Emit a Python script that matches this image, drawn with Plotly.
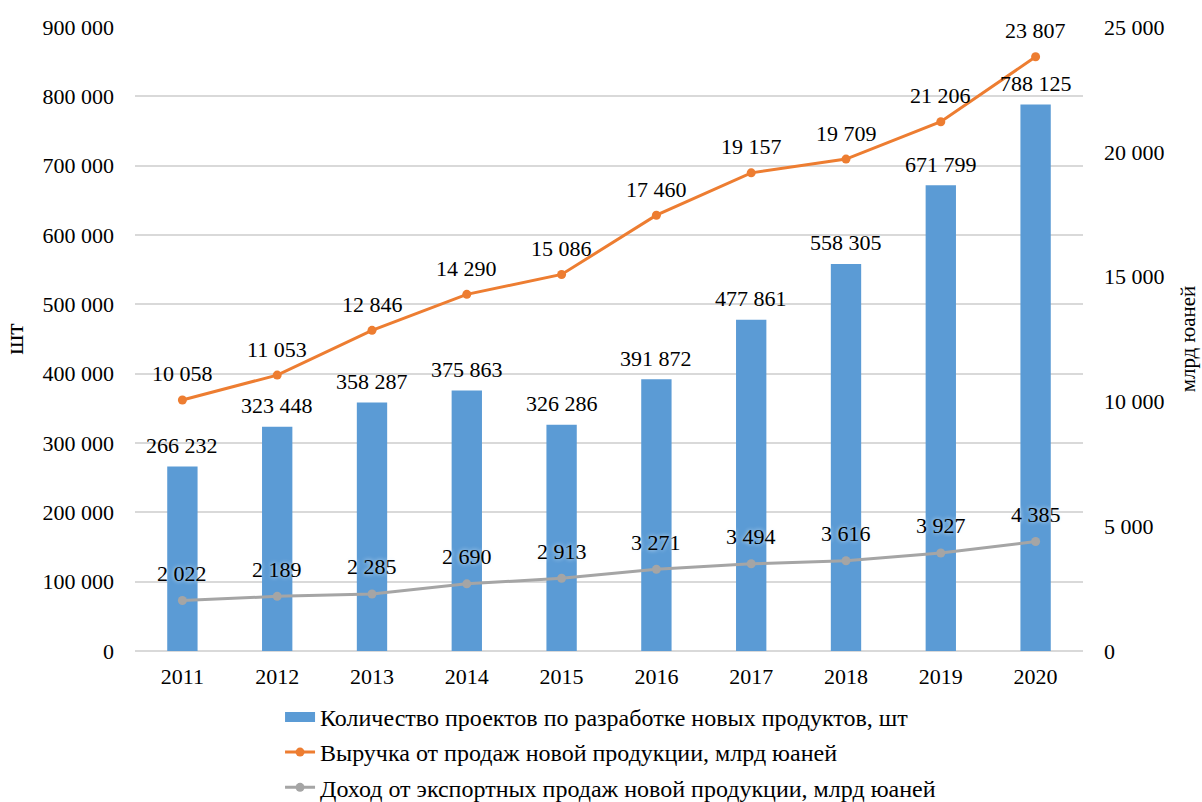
import plotly.graph_objects as go

# data
years = ["2011", "2012", "2013", "2014", "2015", "2016", "2017", "2018", "2019", "2020"]
projects = [266232, 323448, 358287, 375863, 326286, 391872, 477861, 558305, 671799, 788125]
revenue = [10058, 11053, 12846, 14290, 15086, 17460, 19157, 19709, 21206, 23807]
export_income = [2022, 2189, 2285, 2690, 2913, 3271, 3494, 3616, 3927, 4385]

name_projects = "Количество проектов по разработке новых продуктов, шт"
name_revenue = "Выручка от продаж новой продукции, млрд юаней"
name_export = "Доход от экспортных продаж новой продукции, млрд юаней"

FONT = "Liberation Serif"
BLUE = "#5b9bd5"
ORANGE = "#ed7d31"
GREY = "#a5a5a5"


def fmt(v):
    return f"{v:,}".replace(",", " ")


fig = go.Figure()

fig.add_trace(go.Bar(
    x=years, y=projects, name=name_projects,
    marker=dict(color=BLUE, line=dict(width=0)),
    width=0.32, showlegend=False,
))
# wide rectangle legend key for the bars (Excel style)
fig.add_trace(go.Scatter(
    x=[None], y=[None], name=name_projects, mode="lines",
    line=dict(color=BLUE, width=12), legendgroup="a",
))

fig.add_trace(go.Scatter(
    x=years, y=revenue, name=name_revenue, yaxis="y2",
    mode="lines+markers", legendgroup="b",
    line=dict(color=ORANGE, width=3),
    marker=dict(color=ORANGE, size=9),
))

fig.add_trace(go.Scatter(
    x=years, y=export_income, name=name_export, yaxis="y2",
    mode="lines+markers", legendgroup="c",
    line=dict(color=GREY, width=3),
    marker=dict(color=GREY, size=9),
))

# data labels (x as category index)
annotations = []
for i, v in enumerate(projects):
    annotations.append(dict(x=i, y=v, text=fmt(v), showarrow=False,
                            yanchor="middle", yshift=21, xref="x", yref="y"))
for i, v in enumerate(revenue):
    annotations.append(dict(x=i, y=v, text=fmt(v), showarrow=False,
                            yanchor="middle", yshift=26, xref="x", yref="y2"))
for i, v in enumerate(export_income):
    annotations.append(dict(x=i, y=v, text=fmt(v), showarrow=False,
                            yanchor="middle", yshift=27, xref="x", yref="y2",
                            font=dict(shadow="0px 0px 4px #e6f0fa")))

fig.update_layout(
    width=1202, height=802,
    font=dict(family=FONT, size=22, color="#000000"),
    paper_bgcolor="white",
    plot_bgcolor="white",
    separators=", ",
    margin=dict(l=135, r=119, t=27, b=151, autoexpand=False),
    bargap=0.68,
    annotations=annotations,
    xaxis=dict(
        type="category", range=[-0.5, 9.5],
        showgrid=False, automargin=False,
        showline=True, linecolor="#d9d9d9", linewidth=1,
        ticks="", ticklabelstandoff=6,
    ),
    yaxis=dict(
        range=[0, 900000], dtick=100000, tickformat=",d",
        showgrid=True, gridcolor="#d9d9d9", gridwidth=1.5,
        zeroline=True, zerolinecolor="#d9d9d9", zerolinewidth=1.5,
        ticks="", ticklabelstandoff=20, automargin=False,
        title=dict(text="шт", standoff=30),
    ),
    yaxis2=dict(
        range=[0, 25000], dtick=5000, tickformat=",d",
        overlaying="y", side="right",
        showgrid=False, zeroline=False,
        ticks="", ticklabelstandoff=20, automargin=False,
        title=dict(text="млрд юаней", standoff=16, font=dict(size=21)),
    ),
    showlegend=True,
    legend=dict(
        orientation="v",
        x=0.153, xanchor="left",
        y=-0.2545, yanchor="bottom",
        font=dict(size=24),
        tracegroupgap=1,
        bgcolor="rgba(0,0,0,0)",
    ),
)

# drop the default page margin so the figure sits at the window's corner
fig.write_html("out.html", config={"displayModeBar": False},
               post_script="document.body.style.margin='0';")
